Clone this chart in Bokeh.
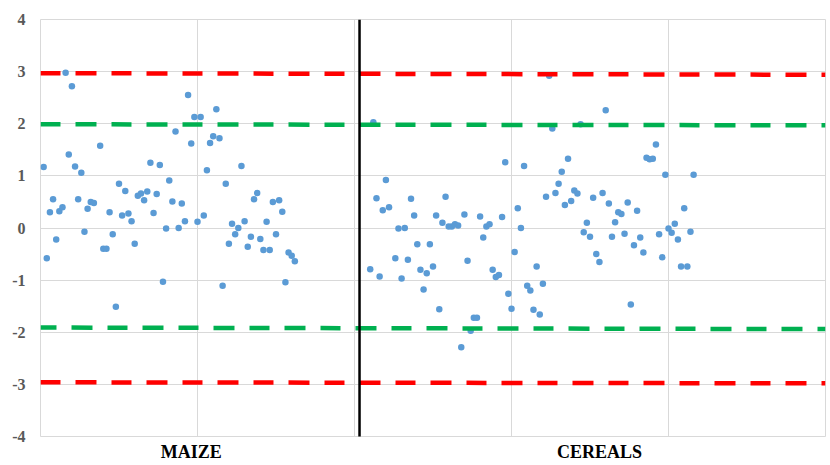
from bokeh.plotting import figure
from bokeh.models import FixedTicker, Range1d
from bokeh.embed import file_html
from bokeh.resources import INLINE

# ---- data ----
maize_x = list(range(1, 18)) + list(range(19, 82))
maize_y = [1.17, -0.58, 0.30, 0.55, -0.22, 0.32, 0.40, 2.98, 1.41, 2.72, 1.18, 0.55, 1.06, -0.07, 0.37, 0.50, 0.48,
           1.58, -0.40, -0.40, 0.30, -0.12, -1.51, 0.85, 0.24, 0.71, 0.28, 0.13, -0.30, 0.62, 0.66, 0.53, 0.70,
           1.25, 0.29, 0.65, 1.21, -1.03, -0.01, 0.91, 0.51, 1.85, 0.00, 0.47, 0.13, 2.55, 1.62, 2.13, 0.12,
           2.13, 0.24, 1.11, 1.63, 1.76, 2.28, 1.72, -1.11, 0.85, -0.30, 0.08, -0.12, 0.00, 1.19, 0.13, -0.36,
           -0.17, 0.55, 0.67, -0.21, -0.42, 0.12, -0.42, 0.50, -0.12, 0.53, 0.31, -1.04, -0.47, -0.53, -0.64]

cereal_x = list(range(105, 112)) + list(range(113, 209))
cereal_y = [-0.79, 2.03, 0.57, -0.93, 0.34, 0.92, 0.40,
            -0.58, -0.01, -0.97, 0.00, -0.61, 0.56, 0.24, -0.31, -0.80, -1.18, -0.87, -0.31, -0.74, 0.24,
            -1.56, 0.10, 0.60, 0.03, 0.03, 0.07, 0.05, -2.29, 0.26, -0.63, -1.97, -1.72, -1.72, 0.22, -0.18,
            0.03, 0.07, -0.80, -0.94, -0.90, 0.21, 1.26, -1.26, -1.55, -0.46, 0.38, 0.00, 1.19, -1.11, -1.20,
            -1.57, -0.74, -1.66, -1.07, 0.60, 2.92, 1.91, 0.67, 0.85, 1.08, 0.44, 1.33, 0.52, 0.72, 0.66, 1.99,
            -0.08, 0.10, -0.17, 0.58, -0.50, -0.65, 0.67, 2.26, 0.47, -0.17, 0.11, 0.30, 0.27, -0.11, 0.49,
            -1.47, -0.33, 0.33, -0.18, -0.47, 1.35, 1.32, 1.33, 1.60, -0.12, -0.56, 1.02, -0.01, -0.09, 0.08,
            -0.22, -0.74, 0.38, -0.74, -0.07, 1.02]

limit_left = [2.97, 1.99, -1.91, -2.96]
limit_right = [2.94, 1.97, -1.94, -2.98]
limit_colors = ["#FF0000", "#00B050", "#00B050", "#FF0000"]
limit_offsets = [0, 0, 4, 0]

divider_x = 101.6
group_ticks = [48, 178]
group_labels = ["MAIZE", "CEREALS"]
y_ticks = [-4, -3, -2, -1, 0, 1, 2, 3, 4]
y_tick_labels = ["-4", "-3", "-2", "-1", "0", "1", "2", "3", "4"]
x_grid = [50, 100, 150, 200]

assert len(maize_x) == len(maize_y)
assert len(cereal_x) == len(cereal_y)

# ---- figure ----
p = figure(width=830, height=465, output_backend="svg", toolbar_location=None,
           x_range=Range1d(0, 250), y_range=Range1d(-4, 4),
           min_border_left=40, min_border_right=5, min_border_top=19, min_border_bottom=29)
p.background_fill_color = "white"
p.border_fill_color = "white"
p.outline_line_color = "#D9D9D9"
p.outline_line_width = 1

p.xgrid.ticker = FixedTicker(ticks=x_grid)
p.ygrid.ticker = FixedTicker(ticks=y_ticks)
p.xgrid.grid_line_color = "#D9D9D9"
p.ygrid.grid_line_color = "#D9D9D9"

p.yaxis.ticker = FixedTicker(ticks=y_ticks)
p.yaxis.major_label_overrides = {t: l for t, l in zip(y_ticks, y_tick_labels)}
p.yaxis.axis_line_color = None
p.yaxis.major_tick_line_color = None
p.yaxis.minor_tick_line_color = None
p.yaxis.major_tick_out = 0
p.yaxis.major_tick_in = 0
p.yaxis.major_label_standoff = 15
p.yaxis.major_label_text_font = "Liberation Serif"
p.yaxis.major_label_text_font_style = "bold"
p.yaxis.major_label_text_font_size = "16px"
p.yaxis.major_label_text_color = "#595959"

p.xaxis.ticker = FixedTicker(ticks=group_ticks)
p.xaxis.major_label_overrides = {t: l for t, l in zip(group_ticks, group_labels)}
p.xaxis.axis_line_color = None
p.xaxis.major_tick_line_color = None
p.xaxis.minor_tick_line_color = None
p.xaxis.major_tick_out = 0
p.xaxis.major_tick_in = 0
p.xaxis.major_label_standoff = 5
p.xaxis.major_label_text_font = "Liberation Serif"
p.xaxis.major_label_text_font_style = "bold"
p.xaxis.major_label_text_font_size = "18px"
p.xaxis.major_label_text_color = "black"

# points
p.scatter(maize_x, maize_y, size=6.5, fill_color="#5B9BD5", line_color=None)
p.scatter(cereal_x, cereal_y, size=6.5, fill_color="#5B9BD5", line_color=None)

# limit lines
for yl, yr, c, off in zip(limit_left, limit_right, limit_colors, limit_offsets):
    p.line([0, 250], [yl, yr], line_color=c, line_width=4.5, line_dash="20 15 21 15",
           line_dash_offset=off)

# divider
p.line([divider_x, divider_x], [-4.1, 4], line_color="black", line_width=2.5)

open("out.html", "w").write(file_html(p, INLINE))
